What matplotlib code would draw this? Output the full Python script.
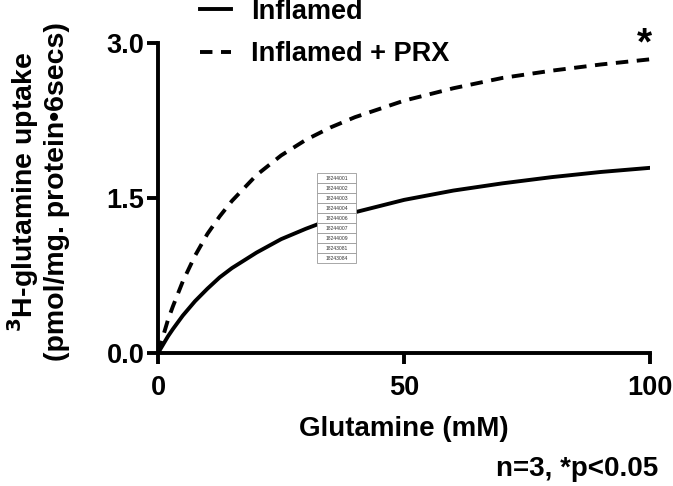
import matplotlib.pyplot as plt
from matplotlib.patches import Rectangle

plt.rcParams['font.family'] = ['Liberation Sans', 'DejaVu Sans']
plt.rcParams['font.weight'] = 'bold'
plt.rcParams['mathtext.default'] = 'bf'

# values
glutamine = [0, 1, 2, 3, 5, 7.5, 10, 12.5, 15, 20, 25, 30, 35, 40, 50, 60, 70, 80, 90, 100]
inflamed = [0, 0.08, 0.16, 0.23, 0.36, 0.50, 0.62, 0.73, 0.82, 0.97, 1.10, 1.20,
            1.29, 1.36, 1.48, 1.57, 1.64, 1.70, 1.75, 1.79]
inflamed_prx = [0, 0.16, 0.32, 0.45, 0.69, 0.94, 1.15, 1.32, 1.47, 1.72, 1.91, 2.06,
                2.18, 2.28, 2.44, 2.56, 2.66, 2.73, 2.79, 2.84]
table_ids = ["18244001", "18244002", "18244003", "18244004", "18244006",
             "18244007", "18244009", "18243081", "18243084"]

fig = plt.figure(figsize=(6.73, 4.86), dpi=100)
ax = fig.add_axes([0.235, 0.274, 0.731, 0.638])

l1, = ax.plot(glutamine, inflamed, color='black', lw=2.8, label='Inflamed')
l2, = ax.plot(glutamine, inflamed_prx, color='black', lw=2.8, ls=(0, (3.2, 2.2)),
              label='Inflamed + PRX')

ax.set_xlim(0, 100)
ax.set_ylim(0, 3.0)
ax.set_xticks([0, 50, 100])
ax.set_yticks([0, 1.5, 3.0])
ax.set_yticklabels(['0.0', '1.5', '3.0'])
for s in ['top', 'right']:
    ax.spines[s].set_visible(False)
for s in ['left', 'bottom']:
    ax.spines[s].set_linewidth(2.8)
ax.tick_params(width=2.8, length=8, labelsize=19.5)
ax.tick_params(axis='x', pad=8)
ax.tick_params(axis='y', pad=2)
for lab in ax.get_xticklabels() + ax.get_yticklabels():
    lab.set_fontweight('bold')

ax.set_xlabel('Glutamine (mM)', fontsize=20, fontweight='bold')
ax.xaxis.set_label_coords(0.5, -0.205)
ax.set_ylabel('$^{3}$H-glutamine uptake\n(pmol/mg. protein\u20226secs)',
              fontsize=20.5, fontweight='bold', linespacing=1.15)
ax.yaxis.set_label_coords(-0.179, 0.52)

fig.legend(handles=[l1, l2], loc='upper left', bbox_to_anchor=(0.297, 1.003),
           frameon=False, handlelength=1.15, handletextpad=0.75,
           borderpad=0, borderaxespad=0, labelspacing=0.62,
           prop={'weight': 'bold', 'size': 19.5})

ax.text(98.9, 2.89, '*', fontsize=28, fontweight='bold', ha='center', va='baseline',
        clip_on=False)
fig.text(0.978, 0.02, 'n=3, *p<0.05', fontsize=20, fontweight='bold', ha='right')

# small pasted table in the middle of the plot
x0, w, h = 317 / 673, 39 / 673, 10 / 486
top = 1 - 173 / 486
for i, t in enumerate(table_ids):
    y = top - (i + 1) * h
    fig.patches.append(Rectangle((x0, y), w, h, transform=fig.transFigure,
                                 facecolor='white', edgecolor='#9a9a9a', lw=0.6))
    fig.text(x0 + w / 2, y + h / 2, t, fontsize=3.6, fontweight='normal',
             ha='center', va='center', color='#333333')

fig.savefig('out.png', dpi=100)
